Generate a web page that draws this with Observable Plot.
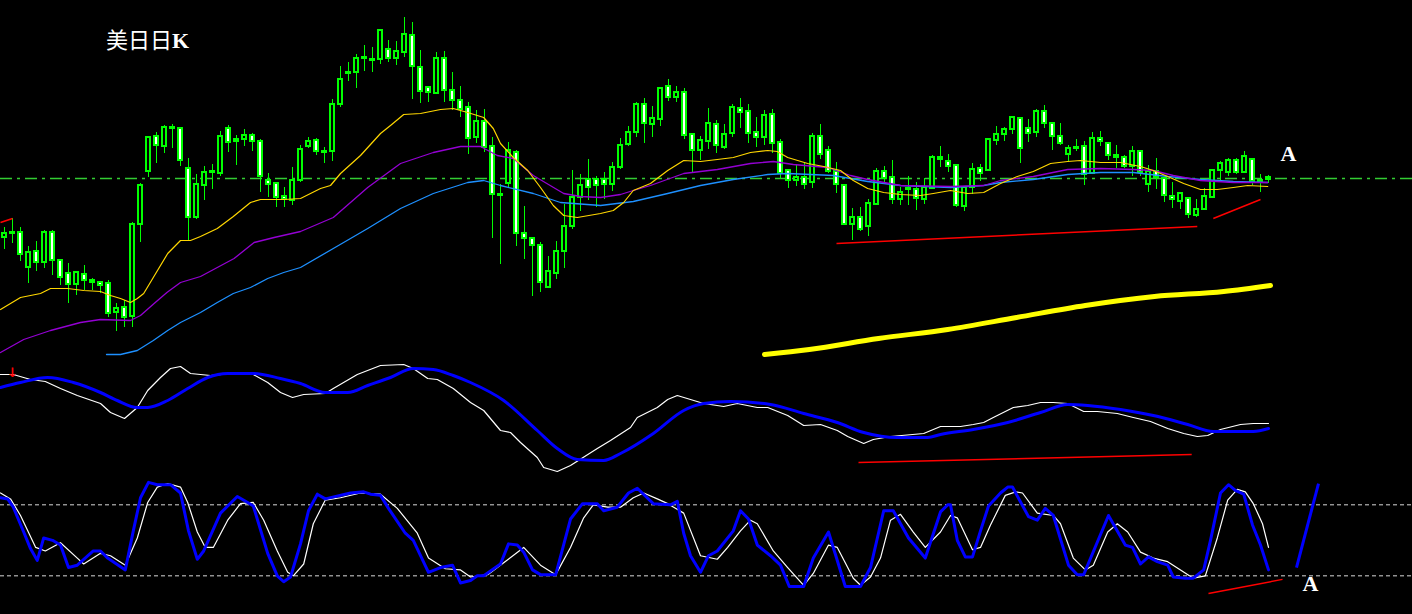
<!DOCTYPE html>
<html><head><meta charset="utf-8">
<script src="https://cdn.jsdelivr.net/npm/d3@7"></script>
<script src="https://cdn.jsdelivr.net/npm/@observablehq/plot@0.6"></script>
<style>
html,body{margin:0;padding:0;background:#000;}
#chart{position:relative;width:1412px;height:614px;background:#000;overflow:hidden;}
#chart svg{position:absolute;left:0;top:0;}
#title{position:absolute;left:106px;top:27px;color:#fff;font-size:22px;z-index:5;line-height:1;}
</style></head><body>
<div id="chart"><div id="title"><span style="font-family:'Noto Sans CJK SC'">美日日</span><span style="font-family:'Liberation Serif';font-weight:bold">K</span></div></div>
<script>
// ---- price data (arbitrary price points) ----
const open = [363,368,368,333,349,338,368,340,327,316, 326,320,318,317,288,293,284,376,429,464, 454,473,472,432,383,415,428,427,472,461, 461,465,459,420,417,404,400,420,454,460, 449,449,496,527,528,542,541,541,551,542, 548,565,533,513,507,542,510,500,493,463, 479,454,406,417,448,367,362,355,313,327, 349,374,403,421,421,421,416,433,456,468, 496,476,481,514,503,508,466,450,459,476, 453,467,492,489,468,463,486,458,430,420, 423,418,464,450,429,415,376,383,374,396, 429,423,401,411,411,401,412,443,439,435, 394,413,432,430,460,466,471,482,472,468, 489,477,464,446,452,454,427,462,457,445, 443,434,449,416,429,422,404,399,402,385, 391,403,430,428,440,428,441,419,421];
const high = [373,382,373,354,359,370,370,340,337,328, 335,322,318,320,297,300,378,417,464,468, 475,476,472,442,426,434,436,469,475,465, 471,467,461,427,417,413,433,455,463,462, 453,501,534,538,546,555,553,571,560,559, 583,578,550,514,548,549,528,514,498,490, 491,463,416,458,450,394,362,358,344,359, 396,430,426,441,424,428,438,462,474,498, 502,494,512,521,514,512,466,464,492,480, 476,496,502,496,483,490,491,461,431,435, 437,467,476,454,438,416,392,393,401,432, 434,440,413,424,418,422,445,454,446,436, 414,437,436,462,474,473,483,482,481,491, 495,478,477,455,461,459,468,469,458,455, 445,454,450,435,442,423,418,407,403,401, 412,431,439,442,442,449,442,426,425];
const low = [351,357,339,317,329,332,325,315,297,305, 310,310,307,283,269,273,273,358,423,437, 447,452,434,360,381,400,411,424,448,435, 454,449,408,403,393,393,395,418,452,445, 437,439,493,519,512,529,528,536,538,535, 543,501,497,498,507,498,490,483,446,457, 448,362,336,413,354,341,304,308,313,321, 332,371,389,400,393,401,409,431,454,463, 457,463,474,499,498,461,428,440,451,447, 451,463,472,457,453,455,447,421,412,414, 411,412,441,427,407,375,360,369,364,395, 417,396,395,395,390,396,411,433,428,393, 389,406,419,429,455,459,466,437,458,463, 472,450,455,439,449,415,426,454,440,432, 432,424,424,408,411,398,392,391,382,383, 391,403,419,424,426,427,415,408,417];
const close = [367,367,346,348,338,368,340,323,316,328, 320,318,315,287,292,283,376,415,463,455, 473,472,440,383,416,428,429,464,458,459, 465,459,424,416,403,401,420,451,459,449, 448,496,521,528,542,543,540,570,542,549, 566,534,509,508,542,510,500,491,462,479, 453,406,405,450,367,362,355,318,329,349, 374,403,415,413,415,416,433,455,468,496, 477,482,512,503,508,465,450,460,477,455, 466,493,488,467,463,485,457,427,420,423, 416,464,446,429,416,376,383,371,397,429, 422,401,408,412,402,413,443,441,434,395, 413,431,427,461,466,471,483,452,467,489, 477,464,457,452,453,426,462,459,445,443, 434,449,428,429,423,405,401,407,386,391, 404,430,437,440,428,444,419,420,423];

// moving averages: [bar, value]
const maFast = [[-0.5,291],[2,303],[4.5,307],[5.75,312],[7.9,312],[9.9,310],[12,309],[13.25,305],[14.5,302],[15.75,298],[16.6,302],[17.4,307],[18.6,323],[20.4,347],[22,360],[23.25,360],[24.5,364],[26.6,372],[28.6,384],[30.75,398],[32,401],[35,401],[37,402],[38.25,407],[39.5,412],[40.75,415],[42,427],[44.5,445],[47,467],[48.25,475],[49.9,486],[52,487],[54.5,491],[56.1,492],[57.9,488],[59.9,483],[61.1,472],[62,457],[63.6,443],[65.4,430],[67,413],[68.6,395],[69.9,385],[71.6,383],[74.5,387],[76.1,390],[77.4,398],[78.6,410],[80.75,417],[82.9,430],[84.9,440],[87,439],[89.1,441],[91.1,443],[93.25,448],[95.4,450],[96.6,449],[97.9,443],[100.4,437],[102.4,434],[104.5,430],[106.1,420],[107.9,412],[109.9,408],[112,406],[114.5,405],[116.1,407],[118.25,410],[120.4,407],[122.4,408],[124.5,417],[126.6,424],[128.6,429],[130.75,437],[132.9,439],[134.5,440],[137,438],[139.5,438],[142,434],[143.6,430],[145.4,424],[147.4,417],[149.5,411],[151.6,411],[153.6,413],[155.4,415],[157.9,414]];
const maMid = [[-0.5,248],[2.4,261],[5.75,270],[9.5,278],[12,281],[15.75,280],[17,285],[18.7,297],[20.3,308],[22,318],[24.5,324],[26.6,333],[28.7,342],[31.2,358],[33.7,363],[37,369],[41.1,383],[45.4,413],[49.5,437],[53.6,448],[57,454],[59.5,454],[61.6,445],[63.6,442],[66.1,425],[69.9,407],[72,404],[74.5,403],[77,406],[78.6,410],[80.75,415],[84.9,427],[89.1,431],[93.25,437],[96.1,439],[98.6,436],[102.9,433],[105.75,425],[107.9,421],[112,415],[118.25,414],[122.4,415],[124.5,420],[128.6,424],[132.9,431],[137,432],[141.1,431],[143.6,430],[146.1,425],[149.5,420],[153.6,418],[157.9,418]];
const maSlow = [[12.75,246],[14.5,246],[16.6,250],[18.6,260],[20.4,270],[22,278],[24.5,288],[26.6,298],[28.6,307],[30.75,313],[32.9,322],[34.9,328],[37,333],[41.1,352],[45.4,372],[49.5,392],[53.6,407],[57.9,418],[59.9,420],[62,415],[66.1,407],[69.5,398],[74.5,395],[78.6,399],[82.9,407],[87,415],[91.1,421],[95.4,426],[97.9,427],[103.6,425],[107.9,419],[112,415],[118.25,413],[122.4,415],[124.5,418],[128.6,421],[132.9,426],[137,428],[141.1,428],[145.4,424],[149.5,421],[153.6,419],[157.9,418]];
const maLong = [[95,246],[100.6,251],[109.25,262],[117.9,271],[126.5,283],[135.1,295],[143.75,304],[152.4,309],[158.25,315]];
const priceLevels = [422];
const priceTrends = [{i1:-0.5,v1:378,i2:1,v2:382},{i1:104,v1:357,i2:149.1,v2:374},{i1:151.1,v1:382,i2:157,v2:401}];
const priceLabels = [{i:160.5,v:447,t:"A"}];

// MACD panel: [bar, value]
const macdFast = [[-0.5,46],[1.1,46],[3.25,41],[5.1,39],[7,32],[9.1,25],[12,17],[13.25,8],[15,2],[16.6,13],[17.9,30],[19.5,43],[20.75,52],[22,54],[23.25,47],[25.75,45],[28.6,47],[31.1,46],[32.9,38],[34.5,28],[36,23],[37.4,26],[40.1,27],[41.1,32],[44.1,46],[47,55],[49.9,56],[51.1,52],[52.9,42],[54.1,41],[56.1,32],[58.25,18],[59.9,10],[62,-10],[63.25,-12],[64.5,-22],[66.6,-37],[67.4,-47],[69.1,-51],[70.75,-45],[74.1,-28],[75.75,-20],[78.25,-7],[79.1,3],[81.6,13],[82.9,21],[84.1,25],[85.75,21],[87.4,17],[89.9,14],[91.6,17],[94.1,13],[95.4,13],[97.9,5],[99.9,-5],[102,-4],[104.1,-10],[105.4,-16],[107.4,-23],[108.6,-19],[110.75,-16],[114.9,-13],[117,-6],[119.5,-6],[121.1,-4],[122.4,-2],[123.6,3],[126.1,13],[127.9,15],[129.5,18],[131.1,18],[132.9,17],[134.9,9],[136.6,9],[139.1,7],[141.1,3],[143.25,-1],[145.4,-8],[147.4,-13],[149.1,-16],[150.4,-15],[152,-9],[154.5,-4],[156.1,-3],[158,-3]];
const macdSignal = [[-0.5,33],[2,38],[5.4,43],[8.6,38],[12,28],[14.1,20],[16.6,13],[17.9,13],[20.4,20],[22.9,32],[25.4,43],[27.9,47],[31.1,47],[34.5,42],[37,37],[40.1,28],[42.9,28],[45.4,35],[48.25,43],[51.1,52],[53.6,51],[56.1,45],[58.25,38],[62.4,20],[66.6,-10],[69.1,-28],[71.6,-39],[74.9,-40],[77,-33],[81.1,-13],[84.9,10],[87.4,17],[90.75,19],[95.75,16],[99.9,7],[104.1,-2],[107.4,-12],[111.6,-17],[115.4,-17],[117,-14],[121.1,-9],[125.4,-2],[129.5,8],[132.9,16],[135.4,15],[139.5,11],[143.6,5],[147.9,-4],[151.1,-11],[156.1,-11],[158,-8]];
const macdTrends = [{i1:106.75,v1:-42,i2:148.4,v2:-34}];
const macdMarks = [{i:1,v:48,t:"↓"}];

// Stochastic panel (0-100): [bar, value]
const stochK = [[-0.5,86],[0.4,85],[1.1,78],[2.4,57],[3.25,43],[4.1,33],[4.9,52],[6,50],[7,46],[8,27],[9.1,29],[11.1,41],[12,41],[12.9,35],[15.1,25],[16.1,58],[17,86],[18,99],[19.1,97],[20.75,97],[22,90],[23,58],[24.1,34],[24.9,41],[27,73],[29.1,87],[30.4,82],[31.1,79],[32.9,39],[34.1,20],[34.9,15],[35.75,19],[37,47],[38,75],[39.1,89],[40.1,85],[43.25,90],[44.9,91],[45.75,89],[47,88],[48,77],[50.1,56],[51.1,50],[53,23],[54.5,27],[56,29],[57,14],[58.25,16],[59.1,20],[59.9,20],[62,30],[63,47],[64.1,46],[64.9,40],[66,25],[67,21],[68.9,21],[70.75,68],[72.25,81],[74.1,81],[74.9,75],[76.6,78],[78,90],[79.1,94],[81.1,81],[83.25,80],[84.1,83],[84.9,56],[85.75,37],[87,23],[88,37],[89.1,41],[91.1,58],[92,75],[93,68],[94.1,46],[95.75,37],[97,29],[98.1,11],[99.9,11],[101.1,35],[103,57],[105.1,11],[107,11],[108.25,27],[109.9,75],[111.1,75],[113,52],[115.1,35],[117,74],[117.9,80],[118.25,80],[119.1,50],[120.1,36],[121,36],[122,58],[123,79],[124.5,90],[125.4,95],[126,95],[128,70],[129.1,67],[130.1,77],[131.1,71],[133,29],[134.1,21],[134.9,21],[138,71],[140.1,46],[141,44],[142,30],[143,36],[144.1,32],[145.4,29],[146.1,19],[147.6,18],[148.6,18],[149.9,25],[150.75,50],[152,90],[153,97],[153.9,92],[154.9,89],[156,63],[157,46],[158,25]];
const stochD = [[-0.5,90],[0.75,85],[2,71],[3.9,44],[5.1,41],[7,48],[9.1,35],[9.9,30],[12,39],[13.25,37],[15.1,29],[16.6,52],[17.9,82],[19.1,95],[20.4,98],[22,95],[22.9,82],[24.1,57],[25.1,44],[26.1,44],[27.9,67],[29.5,81],[31.1,82],[32.4,67],[34.1,41],[35.4,23],[36.1,20],[37.4,30],[38.6,64],[40.1,84],[42,86],[44.5,90],[47,89],[49.1,77],[51.6,56],[53,35],[55.1,26],[57,25],[58.25,19],[60.4,21],[62.4,31],[64.9,44],[67,29],[68.9,21],[70.75,44],[72.4,69],[73.6,80],[75.4,78],[77,78],[78.6,86],[79.9,90],[81.6,85],[82.9,81],[84.9,73],[87,37],[89.1,34],[90.4,44],[92,58],[93.25,67],[94.1,64],[96.1,41],[97.9,27],[99.9,12],[101.1,22],[103,46],[104.1,44],[106.1,18],[107,12],[108.25,19],[109.5,35],[110.75,67],[112,72],[113.6,57],[115.1,44],[117,57],[118.25,71],[119.1,69],[121,42],[122,44],[123.25,63],[125.1,88],[126.4,91],[127.25,90],[129.1,73],[131.1,71],[132,64],[133.6,35],[135.1,25],[136.1,29],[137.9,57],[139.1,64],[140.4,57],[142,40],[143.6,35],[145.4,32],[147,25],[148.6,18],[150.1,20],[151.6,52],[152.9,84],[154.1,93],[155.1,91],[156.1,81],[157.25,64],[158,44]];
const stochLevels = [80, 20];
const stochTrends = [{i1:150.5,v1:5,i2:159.75,v2:17}];
const stochStrokes = [{i1:161.5,v1:27,i2:164.25,v2:98}];
const stochLabels = [{i:163.25,v:13,t:"A"}];

const candles = open.map((o, i) => ({i, open: o, high: high[i], low: low[i], close: close[i]}));
const X = d => d[0], Y = d => d[1];
const W = 1412, H = 614;

function layer(ydomain, marks) {
  return Plot.plot({
    width: W, height: H, margin: 0,
    x: {domain: [-0.5, 176], axis: null},
    y: {domain: ydomain, axis: null},
    style: {background: "transparent", overflow: "visible"},
    marks
  });
}

const green = "#00ff00";
const price = layer([-14, 600], [
  Plot.ruleY(priceLevels, {y: d => d, stroke: "#32cd32", strokeWidth: 1.3, strokeDasharray: "12,5,3,5"}),
  Plot.ruleX(candles, {x: "i", y1: "low", y2: "high", stroke: green, strokeWidth: 1.3, shapeRendering: "crispEdges"}),
  Plot.rect(candles, {filter: d => d.close > d.open, x1: d => d.i - 0.26, x2: d => d.i + 0.26, y1: "open", y2: "close", fill: "#000", stroke: green, strokeWidth: 1.2, shapeRendering: "crispEdges"}),
  Plot.rect(candles, {filter: d => d.close <= d.open, x1: d => d.i - 0.26, x2: d => d.i + 0.26, y1: "open", y2: "close", fill: "#fff", stroke: green, strokeWidth: 1.2, shapeRendering: "crispEdges"}),
  Plot.line(maSlow, {x: X, y: Y, stroke: "#1e90ff", strokeWidth: 1.3}),
  Plot.line(maMid, {x: X, y: Y, stroke: "#9400d3", strokeWidth: 1.3}),
  Plot.line(maFast, {x: X, y: Y, stroke: "#ffd700", strokeWidth: 1.2}),
  Plot.line(maLong, {x: X, y: Y, stroke: "#ffff00", strokeWidth: 5, curve: "monotone-x"}),
  Plot.link(priceTrends, {x1: "i1", y1: "v1", x2: "i2", y2: "v2", stroke: "#ff0000", strokeWidth: 1.5}),
  Plot.text(priceLabels, {x: "i", y: "v", text: "t", fill: "#fff", fontSize: 22, fontFamily: "Liberation Serif", fontWeight: "bold"})
]);

const macd = layer([-194, 420], [
  Plot.line(macdFast, {x: X, y: Y, stroke: "#ffffff", strokeWidth: 1.2}),
  Plot.line(macdSignal, {x: X, y: Y, stroke: "#0000ff", strokeWidth: 3, curve: "monotone-x"}),
  Plot.link(macdTrends, {x1: "i1", y1: "v1", x2: "i2", y2: "v2", stroke: "#ff0000", strokeWidth: 1.5}),
  Plot.text(macdMarks, {x: "i", y: "v", text: "t", fill: "#ff0000", fontSize: 13, fontWeight: "bold", fontFamily: "DejaVu Sans"})
]);

const stoch = layer([-12.675, 506.155], [
  Plot.ruleY(stochLevels, {y: d => d, stroke: "#d8d8d8", strokeWidth: 1, strokeDasharray: "4,3"}),
  Plot.line(stochD, {x: X, y: Y, stroke: "#ffffff", strokeWidth: 1.2}),
  Plot.line(stochK, {x: X, y: Y, stroke: "#0000ff", strokeWidth: 3}),
  Plot.link(stochTrends, {x1: "i1", y1: "v1", x2: "i2", y2: "v2", stroke: "#ff0000", strokeWidth: 1.5}),
  Plot.link(stochStrokes, {x1: "i1", y1: "v1", x2: "i2", y2: "v2", stroke: "#0000ff", strokeWidth: 3}),
  Plot.text(stochLabels, {x: "i", y: "v", text: "t", fill: "#fff", fontSize: 22, fontFamily: "Liberation Serif", fontWeight: "bold"})
]);

const chart = document.getElementById("chart");
chart.appendChild(price);
chart.appendChild(macd);
chart.appendChild(stoch);
</script></body></html>
